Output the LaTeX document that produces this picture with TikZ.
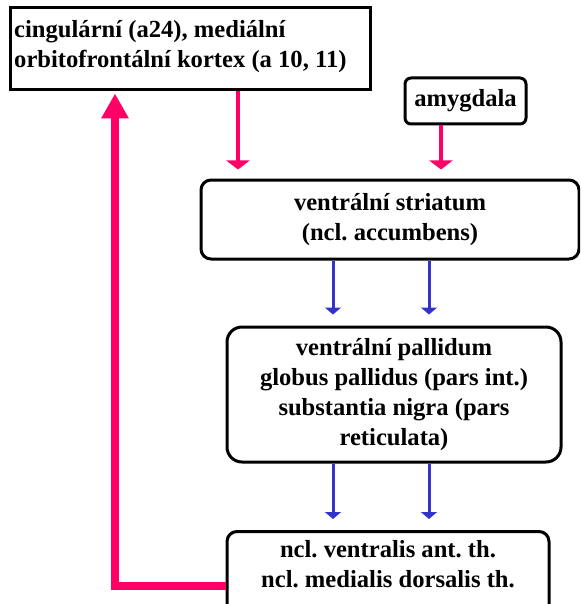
\documentclass[tikz,border=0pt]{standalone}
\usepackage{fontspec}
\setmainfont{Liberation Serif}
\usetikzlibrary{arrows.meta}
\definecolor{loopred}{RGB}{255,0,102}
\definecolor{pathblue}{RGB}{51,51,204}
\frenchspacing
\begin{document}
\begin{tikzpicture}[x=1pt,y=-1pt,
  every node/.style={font=\fontsize{24.6}{30}\selectfont\bfseries},
  region/.style={draw=black, line width=3pt, rounded corners=#1,
    inner sep=0pt, align=center},
  region/.default=10pt,
  cortexbox/.style={draw=black, line width=3pt, inner sep=0pt},
  label text/.style={inner sep=0pt, align=center},
  inputarrow/.style={draw=loopred, line width=4pt,
    -{Triangle[width=23pt,length=9pt]}},
  relayarrow/.style={draw=pathblue, line width=3pt,
    -{Triangle[width=16pt,length=7pt]}},
  looparrow/.style={draw=loopred, line width=8pt, line join=miter,
    -{Triangle[width=26pt,length=25pt]}}
]
\useasboundingbox (0,0) rectangle (580,604);
\clip (0,0) rectangle (580,604);

% cortical source
\node[cortexbox, minimum width=360pt, minimum height=82pt] (cortex) at (190,49) {};
\node[inner sep=0pt, align=left, anchor=north west] (cortextext) at (14,20)
  {cingulární (a24), mediální\\orbitofrontální kortex (a 10, 11)};

% amygdala input
\node[region=6pt, minimum width=121pt, minimum height=46pt] (amyg) at (465.5,101) {amygdala};

% basal ganglia stations
\node[region=10pt, minimum width=378pt, minimum height=79pt] (striatum) at (390,219.5)
  {ventrální striatum\\(ncl. accumbens)};
\node[region=15pt, minimum width=334pt, minimum height=135pt] (pallidum) at (394,394.5)
  {ventrální pallidum\\globus pallidus (pars int.)\\substantia nigra (pars\\reticulata)};

% thalamic relay (runs past the lower edge)
\node[region=10pt, minimum width=322pt, minimum height=100pt, anchor=north] (thal) at (388,530) {};
\node[label text] (thaltext) at (388,564.5)
  {ncl. ventralis ant. th.\\ncl. medialis dorsalis th.};

% connector columns
\coordinate (colA) at (238,0);
\coordinate (colB) at (441,0);
\coordinate (colC) at (333,0);
\coordinate (colD) at (429,0);
\coordinate (turn) at (115,586);

\draw[inputarrow, shorten >=9pt] (cortex.south -| colA) -- (striatum.north -| colA);
\draw[inputarrow, shorten >=9pt] (amyg.south -| colB) -- (striatum.north -| colB);

\draw[relayarrow, shorten >=11pt] (striatum.south -| colC) -- (pallidum.north -| colC);
\draw[relayarrow, shorten >=11pt] (striatum.south -| colD) -- (pallidum.north -| colD);
\draw[relayarrow, shorten >=11pt] (pallidum.south -| colC) -- (thal.north -| colC);
\draw[relayarrow, shorten >=11pt] (pallidum.south -| colD) -- (thal.north -| colD);

% thalamo-cortical return loop
\draw[looparrow, shorten >=2pt] (thal.west |- turn) -- (turn) -- (cortex.south -| turn);
\end{tikzpicture}
\end{document}
